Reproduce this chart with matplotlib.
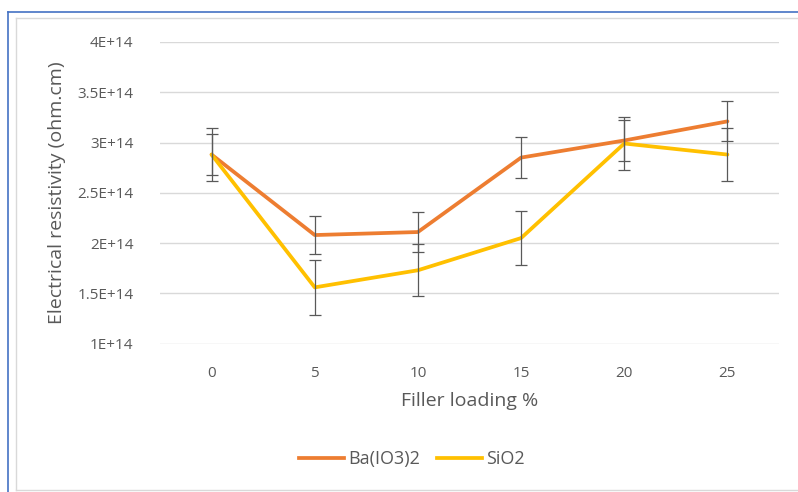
import matplotlib
matplotlib.use("Agg")
import matplotlib.pyplot as plt
from matplotlib.lines import Line2D
import numpy as np

categories = ["0", "5", "10", "15", "20", "25"]
ba_values = [2.88e14, 2.08e14, 2.11e14, 2.85e14, 3.02e14, 3.21e14]
ba_errors = [0.20e14, 0.19e14, 0.20e14, 0.20e14, 0.20e14, 0.20e14]
sio2_values = [2.88e14, 1.56e14, 1.73e14, 2.05e14, 2.99e14, 2.88e14]
sio2_errors = [0.26e14, 0.27e14, 0.26e14, 0.265e14, 0.26e14, 0.26e14]
y_ticks = [1e14, 1.5e14, 2e14, 2.5e14, 3e14, 3.5e14, 4e14]
y_tick_labels = ["1E+14", "1.5E+14", "2E+14", "2.5E+14", "3E+14", "3.5E+14", "4E+14"]
series_names = ["Ba(IO3)2", "SiO2"]

W, H = 798, 492
plt.rcParams['font.family'] = ['Open Sans', 'DejaVu Sans']
fig = plt.figure(figsize=(W / 100, H / 100), dpi=100)

# chart borders
fig.add_artist(Line2D([8 / W, 1.0], [1 - 12 / H, 1 - 12 / H], color="#4472C4", lw=1.2))
fig.add_artist(Line2D([8 / W, 8 / W], [0, 1 - 12 / H], color="#4472C4", lw=1.2))
fig.add_artist(Line2D([16 / W, 1.0], [1 - 18 / H, 1 - 18 / H], color="#D9D9D9", lw=1.0))
fig.add_artist(Line2D([16 / W, 16 / W], [1 - 490 / H, 1 - 18 / H], color="#D9D9D9", lw=1.0))
fig.add_artist(Line2D([16 / W, 1.0], [1 - 490 / H, 1 - 490 / H], color="#D9D9D9", lw=1.0))

left, right = 160 / W, 779 / W
bottom, top = 1 - 343.7 / H, 1 - 41.9 / H
ax = fig.add_axes([left, bottom, right - left, top - bottom])

x = np.arange(len(categories))
orange = "#ED7D31"
yellow = "#FFC000"
errc = "#595959"

ax.plot(x, ba_values, color=orange, lw=2.7, solid_capstyle="round", zorder=3)
ax.plot(x, sio2_values, color=yellow, lw=2.7, solid_capstyle="round", zorder=3)
ax.errorbar(x, ba_values, yerr=ba_errors, fmt="none", ecolor=errc, elinewidth=0.9,
            capsize=4, capthick=0.9, zorder=4)
ax.errorbar(x, sio2_values, yerr=sio2_errors, fmt="none", ecolor=errc, elinewidth=0.9,
            capsize=4, capthick=0.9, zorder=4)

ax.set_xlim(-0.5, len(categories) - 0.5)
ax.set_ylim(1e14, 4e14)
ax.set_yticks(y_ticks)
ax.set_yticklabels(y_tick_labels)
ax.set_xticks(x)
ax.set_xticklabels(categories)
ax.yaxis.grid(True, color="#D9D9D9", lw=1.0)
ax.set_axisbelow(True)
for s in ax.spines.values():
    s.set_visible(False)
ax.tick_params(axis="both", length=0, colors="#595959", labelsize=11)
ax.tick_params(axis="y", pad=19)
ax.tick_params(axis="x", pad=16)

fig.text((left + right) / 2, 1 - 401 / H, "Filler loading %", ha="center", va="center",
         fontsize=14, color="#595959")
fig.text(57 / W, 1 - 193 / H, "Electrical resistivity (ohm.cm)", ha="center", va="center",
         rotation=90, fontsize=14, color="#595959")

handles = [Line2D([], [], color=orange, lw=2.7), Line2D([], [], color=yellow, lw=2.7)]
fig.legend(handles, series_names, loc="center", bbox_to_anchor=(412 / W, 1 - 459 / H),
           ncol=2, frameon=False, fontsize=13, handlelength=2.5, handletextpad=0.22,
           columnspacing=0.95, labelcolor="#595959")

fig.savefig("out.png", dpi=100)
